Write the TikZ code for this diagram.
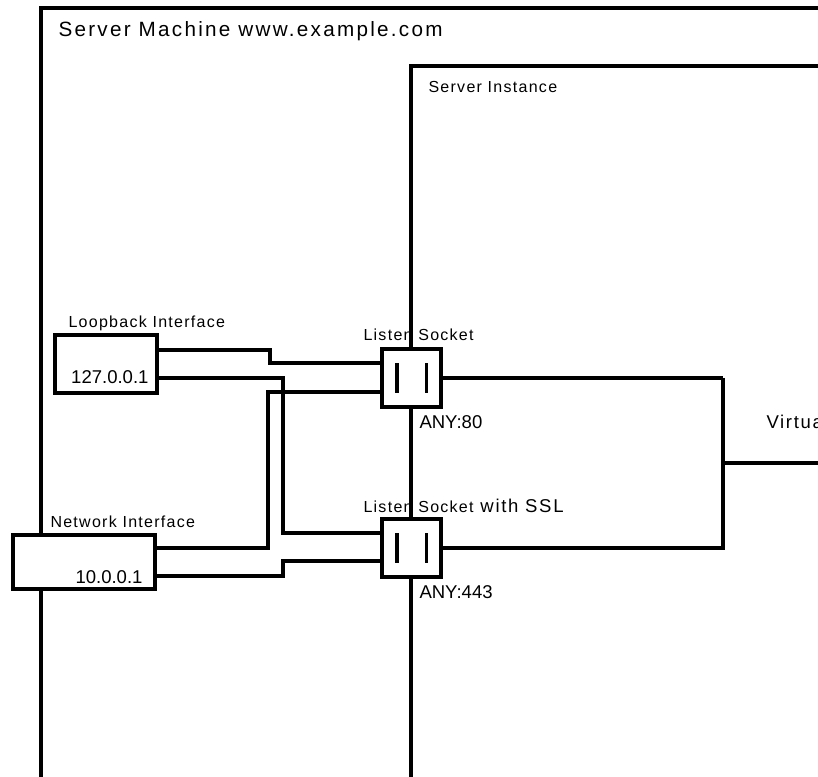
\documentclass[tikz,border=0pt]{standalone}
\usepackage{fontspec}
\setmainfont{Liberation Sans}
\newfontfamily\smallspaced[LetterSpace=8]{Liberation Sans}
\newfontfamily\bigspaced[LetterSpace=11]{Liberation Sans}
\newfontfamily\midspaced[LetterSpace=9]{Liberation Sans}
\begin{document}
\begin{tikzpicture}[x=0.75pt,y=-0.75pt,
  line width=2.25pt,
  frameline/.style={line width=2.4pt},
  boxnode/.style={draw,fill=white,line width=2.4pt,inner sep=0pt},
  socket/.style={boxnode,minimum width=44.25pt,minimum height=43.5pt},
  wire/.style={line width=2.3pt},
  thickwire/.style={line width=3.3pt},
  smalllbl/.style={inner sep=0pt,anchor=base west,font=\smallspaced\fontsize{12}{14}\selectfont},
  biglbl/.style={inner sep=0pt,anchor=base west,font=\fontsize{13.9}{16}\selectfont},
]
\useasboundingbox (0,0) rectangle (818,777);
\clip (0,0) rectangle (818,777);
\fill[white] (0,0) rectangle (818,777);

% frames
\coordinate (smbl) at (41,790);
\coordinate (smtl) at (41,8);
\coordinate (smtr) at (830,8);
\coordinate (sibl) at (411,790);
\coordinate (sitl) at (411,66);
\coordinate (sitr) at (830,66);
\draw[frameline] (smbl) -- (smtl) -- (smtr);
\draw[frameline] (sibl) -- (sitl) -- (sitr);

\node (tsm) [inner sep=0pt,anchor=base west,font=\bigspaced\fontsize{15.5}{18}\selectfont] at (57,37) {Server Machine www.example.com};
\node (tsi) [smalllbl] at (427,93) {Server Instance};

% interfaces
\node (lo) [boxnode,minimum width=76.5pt,minimum height=43.5pt] at (106,364) {};
\node (ni) [boxnode,minimum width=106.5pt,minimum height=40.5pt] at (84,562) {};
\node (tlo) [smalllbl] at (67,328) {Loopback Interface};
\node (tloip) [inner sep=0pt,anchor=base east,font=\fontsize{13.9}{16}\selectfont] at (150,383) {127.0.0.1};
\node (tni) [smalllbl] at (49,527) {Network Interface};
\node (tniip) [inner sep=0pt,anchor=base east,font=\fontsize{13.9}{16}\selectfont] at (144,583) {10.0.0.1};

% sockets
\node (s80) [socket] at (411.5,378) {};
\node (s443) [socket] at (411.5,548) {};
\foreach \s in {s80,s443}{
  \draw[wire] ([xshift=-10.9pt,yshift=10.9pt]\s.center) -- ([xshift=-10.9pt,yshift=-10.9pt]\s.center);
  \draw[wire] ([xshift=10.9pt,yshift=10.9pt]\s.center) -- ([xshift=10.9pt,yshift=-10.9pt]\s.center);
}
\node (ts80) [smalllbl] at (362,341) {Listen Socket};
\node (ts443) [smalllbl] at (362,512) {Listen Socket\midspaced\fontsize{13.9}{16}\selectfont{} with SSL};
\node (tany80) [biglbl] at (418,428) {ANY:80};
\node (tany443) [biglbl] at (418,598) {ANY:443};

% wires from interfaces
\coordinate (a1) at (270,350);
\coordinate (a2) at (270,363);
\draw[wire] (lo.east |- a1) -- (a1) -- (a2) -- (s80.west |- a2);
\coordinate (b1) at (283,378);
\coordinate (b2) at (283,533);
\draw[wire] (lo.east |- b1) -- (b1) -- (b2) -- (s443.west |- b2);
\coordinate (c1) at (268,548);
\coordinate (c2) at (268,392);
\draw[wire] (ni.east |- c1) -- (c1) -- (c2) -- (s80.west |- c2);
\coordinate (d1) at (283,576);
\coordinate (d2) at (283,561);
\draw[wire] (ni.east |- d1) -- (d1) -- (d2) -- (s443.west |- d2);

% right side
\coordinate (r1) at (723,378);
\coordinate (r2) at (723,548);
\coordinate (rm) at (723,463);
\coordinate (vh) at (830,463);
\draw[thickwire] (s80.east) -- (r1);
\draw[wire] (r1) -- (r2) -- (s443.east);
\draw[wire] (rm) -- (vh);
\node (tvh) [inner sep=0pt,anchor=base west,font=\midspaced\fontsize{13.9}{16}\selectfont] at (765,428) {Virtual Host};
\end{tikzpicture}
\end{document}
